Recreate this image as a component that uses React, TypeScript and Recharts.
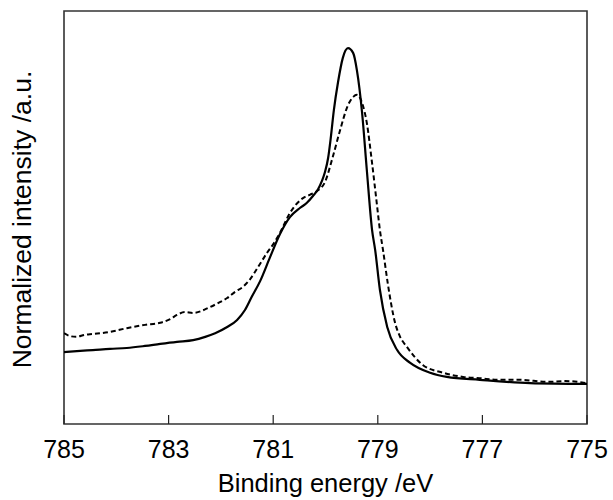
import React from "react";
import { LineChart, Line, XAxis, YAxis, ReferenceArea } from "recharts";

// Binding energy (eV) and normalized intensity (a.u., 0-100 scale)
const solidEnergy = [785.0, 784.69, 784.45, 784.12, 783.8, 783.45, 783.16, 782.84, 782.53, 782.3, 782.11, 781.88, 781.69, 781.54, 781.41, 781.25, 781.06, 780.87, 780.68, 780.49, 780.36, 780.24, 780.14, 780.07, 780.01, 779.95, 779.9, 779.84, 779.76, 779.67, 779.57, 779.47, 779.4, 779.3, 779.21, 779.11, 779.05, 778.96, 778.82, 778.63, 778.38, 778.0, 777.68, 777.05, 776.09, 775.0];
const solidIntensity = [17.4, 17.7, 17.9, 18.2, 18.4, 18.9, 19.4, 19.9, 20.3, 21.1, 22.0, 23.5, 25.2, 27.6, 30.8, 34.6, 40.4, 46.0, 50.1, 52.3, 53.5, 55.2, 56.9, 58.8, 61.0, 64.4, 69.2, 76.0, 82.8, 88.6, 91.0, 89.8, 85.7, 75.3, 61.5, 47.0, 42.1, 32.5, 23.5, 17.9, 14.8, 12.4, 11.4, 10.7, 9.9, 9.7];

const dashedEnergy = [785.0, 784.89, 784.77, 784.6, 784.45, 784.12, 783.8, 783.45, 783.16, 782.97, 782.84, 782.69, 782.53, 782.21, 782.02, 781.88, 781.73, 781.58, 781.44, 781.29, 781.12, 780.97, 780.87, 780.68, 780.43, 780.3, 780.16, 780.01, 779.86, 779.72, 779.57, 779.47, 779.4, 779.3, 779.21, 779.11, 779.02, 778.96, 778.9, 778.81, 778.67, 778.58, 778.44, 778.14, 777.75, 777.37, 777.05, 776.72, 776.28, 775.76, 775.42, 775.0];
const dashedIntensity = [22.0, 21.3, 21.1, 21.6, 21.8, 22.3, 23.2, 24.0, 24.5, 25.4, 26.4, 27.1, 26.9, 28.3, 29.5, 30.5, 32.0, 33.2, 35.1, 38.0, 41.4, 44.1, 46.3, 51.1, 54.7, 55.5, 56.4, 58.6, 64.7, 71.2, 77.2, 79.2, 79.7, 77.7, 72.9, 63.2, 53.5, 47.0, 42.1, 34.1, 24.5, 21.3, 18.6, 14.3, 12.4, 11.4, 11.1, 10.7, 10.7, 10.2, 10.4, 9.9];

const xTicks = [785, 783, 781, 779, 777, 775];
const xLabel = "Binding energy /eV";
const yLabel = "Normalized intensity /a.u.";

const solidData = solidEnergy.map((e, i) => ({ e, v: solidIntensity[i] }));
const dashedData = dashedEnergy.map((e, i) => ({ e, v: dashedIntensity[i] }));

const FONT = "'Liberation Sans', Arial, sans-serif";
const TICK_SIZE = 10;

const XTick = (props: any) => {
  const { x, y, payload } = props;
  const axisY = y - TICK_SIZE;
  return (
    <g>
      <line x1={x} x2={x} y1={axisY} y2={axisY - 9} stroke="#222" strokeWidth={1.2} />
      <text x={x} y={axisY + 34} textAnchor="middle" fontFamily={FONT} fontSize={25} fill="#000">
        {payload.value}
      </text>
    </g>
  );
};

const XLabel = (props: any) => {
  const { viewBox } = props;
  const cx = viewBox.x + viewBox.width / 2;
  return (
    <text x={cx} y={viewBox.y + 68} textAnchor="middle" fontFamily={FONT} fontSize={25.5} fill="#000">
      {xLabel}
    </text>
  );
};

const YLabel = (props: any) => {
  const { viewBox } = props;
  const cx = 21;
  const cy = viewBox.y + viewBox.height / 2 + 2;
  return (
    <text
      x={cx}
      y={cy}
      dy="0.36em"
      transform={`rotate(-90, ${cx}, ${cy})`}
      textAnchor="middle"
      fontFamily={FONT}
      fontSize={26.5}
      fill="#000"
    >
      {yLabel}
    </text>
  );
};

export default function App() {
  return (
    <div style={{ position: "absolute", left: 0, top: 0, background: "#fff" }}>
      <LineChart width={613} height={500} margin={{ top: 11, right: 26, left: 0, bottom: 0 }}>
        <XAxis
          dataKey="e"
          type="number"
          domain={[775, 785]}
          reversed
          ticks={xTicks}
          allowDataOverflow
          axisLine={false}
          tickLine={false}
          tickSize={TICK_SIZE}
          tickMargin={0}
          tick={<XTick />}
          height={76}
          label={<XLabel />}
        />
        <YAxis
          type="number"
          domain={[0, 100]}
          allowDataOverflow
          axisLine={false}
          tickLine={false}
          tick={false}
          width={64}
          label={<YLabel />}
        />
        <ReferenceArea x1={785} x2={775} y1={0} y2={100} fill="none" stroke="#333" strokeWidth={1.6} />
        <Line
          data={dashedData}
          dataKey="v"
          type="monotone"
          stroke="#000"
          strokeWidth={2}
          strokeDasharray="5 3"
          dot={false}
          isAnimationActive={false}
        />
        <Line
          data={solidData}
          dataKey="v"
          type="monotone"
          stroke="#000"
          strokeWidth={2.2}
          dot={false}
          isAnimationActive={false}
        />
      </LineChart>
    </div>
  );
}
